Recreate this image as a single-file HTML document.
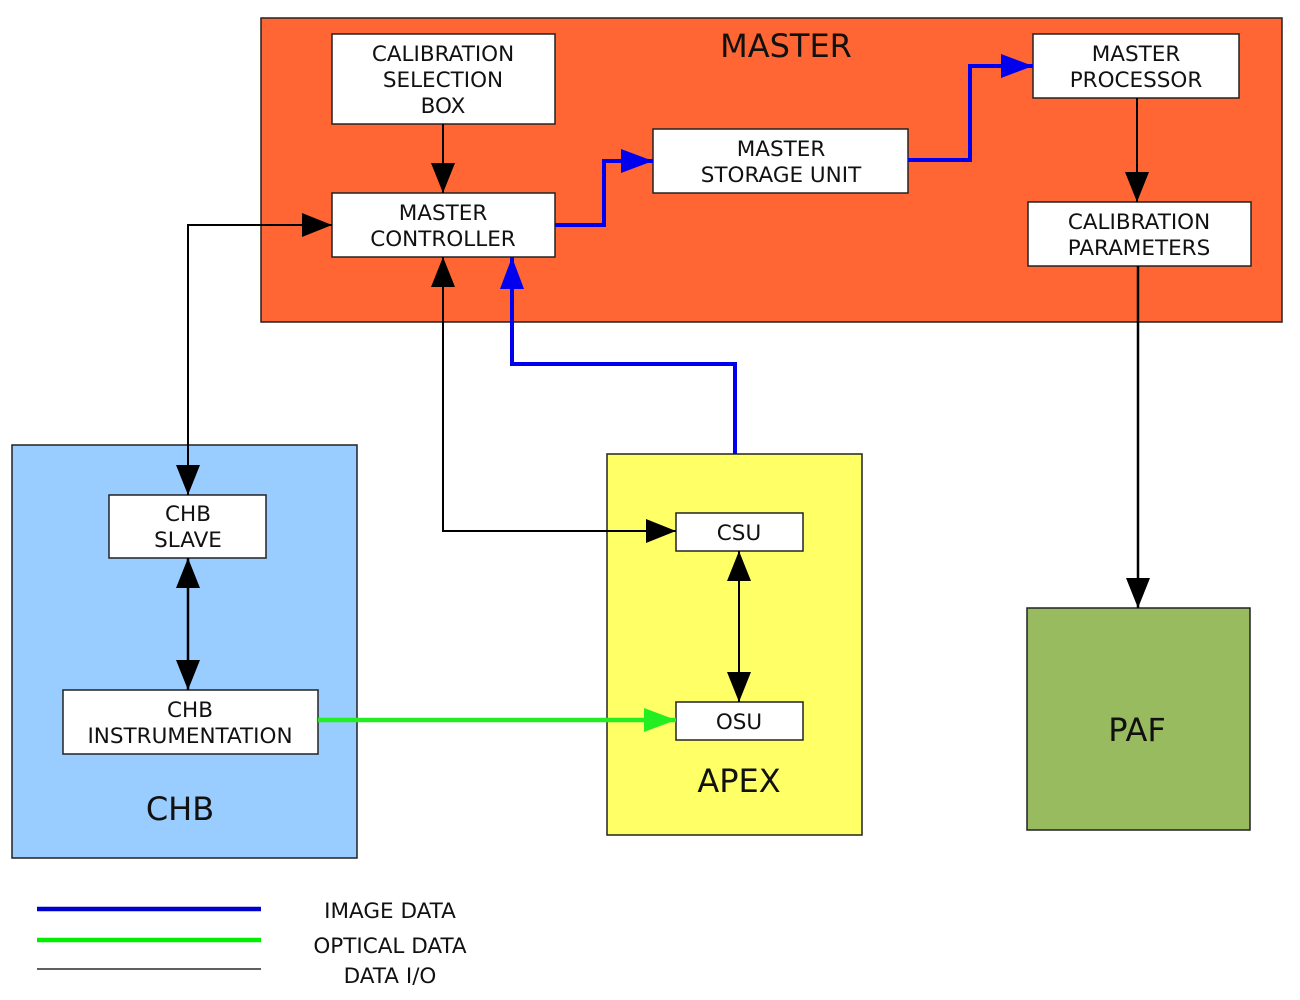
<!DOCTYPE html>
<html><head><meta charset="utf-8"><style>html,body{margin:0;padding:0;background:#fff}svg{display:block}text{font-family:"DejaVu Sans","Liberation Sans",sans-serif;fill:#111}</style></head>
<body>
<svg width="1300" height="1000" viewBox="0 0 1300 1000" xmlns="http://www.w3.org/2000/svg">
<defs>
<marker id="ab" markerWidth="30" markerHeight="24" refX="30" refY="12" orient="auto" markerUnits="userSpaceOnUse"><path d="M0,0 L30,12 L0,24 z" fill="#000"/></marker>
<marker id="abs" markerWidth="30" markerHeight="24" refX="0" refY="12" orient="auto" markerUnits="userSpaceOnUse"><path d="M30,0 L0,12 L30,24 z" fill="#000"/></marker>
<marker id="au" markerWidth="32" markerHeight="24" refX="32" refY="12" orient="auto" markerUnits="userSpaceOnUse"><path d="M0,0 L32,12 L0,24 z" fill="#0000ee"/></marker>
<marker id="ag" markerWidth="32" markerHeight="24" refX="32" refY="12" orient="auto" markerUnits="userSpaceOnUse"><path d="M0,0 L32,12 L0,24 z" fill="#22ee22"/></marker>
</defs>
<g stroke="#222" stroke-width="1.5">
<rect x="261" y="18" width="1021" height="304" fill="#ff6633"/>
<rect x="12" y="445" width="345" height="413" fill="#99ccff"/>
<rect x="607" y="454" width="255" height="381" fill="#ffff66"/>
<rect x="1027" y="608" width="223" height="222" fill="#99bb5f"/>
<g fill="#fff">
<rect x="332" y="34" width="223" height="90"/>
<rect x="332" y="193" width="223" height="64"/>
<rect x="653" y="129" width="255" height="64"/>
<rect x="1033" y="34" width="206" height="64"/>
<rect x="1028" y="202" width="223" height="64"/>
<rect x="109" y="495" width="157" height="63"/>
<rect x="63" y="690" width="255" height="64"/>
<rect x="676" y="513" width="127" height="38"/>
<rect x="676" y="702" width="127" height="38"/>
</g>
</g>
<g fill="none">
<path d="M443,124 V193" stroke="#000" stroke-width="2" marker-end="url(#ab)"/>
<path d="M555,225 H604 V161 H653" stroke="#0000ee" stroke-width="4" marker-end="url(#au)"/>
<path d="M908,160 H970 V66 H1033" stroke="#0000ee" stroke-width="4" marker-end="url(#au)"/>
<path d="M1137,98 V202" stroke="#000" stroke-width="2" marker-end="url(#ab)"/>
<path d="M1138,266 V608" stroke="#000" stroke-width="2.5" marker-end="url(#ab)"/>
<path d="M188,495 V225 H332" stroke="#000" stroke-width="2" marker-start="url(#abs)" marker-end="url(#ab)"/>
<path d="M443,257 V531 H676" stroke="#000" stroke-width="2" marker-start="url(#abs)" marker-end="url(#ab)"/>
<path d="M735,454 V364 H512 V257" stroke="#0000ee" stroke-width="4" marker-end="url(#au)"/>
<path d="M188,558 V690" stroke="#000" stroke-width="2.5" marker-start="url(#abs)" marker-end="url(#ab)"/>
<path d="M739,551 V702" stroke="#000" stroke-width="2" marker-start="url(#abs)" marker-end="url(#ab)"/>
<path d="M318,720 H676" stroke="#22ee22" stroke-width="4.5" marker-end="url(#ag)"/>
<path d="M37,909 H261" stroke="#0000cc" stroke-width="4.5"/>
<path d="M37,940 H261" stroke="#00ee00" stroke-width="4.5"/>
<path d="M37,969 H261" stroke="#000" stroke-width="1.2"/>
</g>
<g font-size="21.5" text-anchor="middle">
<text x="443" y="61">CALIBRATION</text><text x="443" y="87">SELECTION</text><text x="443" y="113">BOX</text>
<text x="443" y="220">MASTER</text><text x="443" y="246">CONTROLLER</text>
<text x="781" y="156">MASTER</text><text x="781" y="182">STORAGE UNIT</text>
<text x="1136" y="61">MASTER</text><text x="1136" y="87">PROCESSOR</text>
<text x="1139" y="229">CALIBRATION</text><text x="1139" y="255">PARAMETERS</text>
<text x="188" y="521">CHB</text><text x="188" y="547">SLAVE</text>
<text x="190" y="717">CHB</text><text x="190" y="743">INSTRUMENTATION</text>
<text x="739" y="540">CSU</text>
<text x="739" y="729">OSU</text>
<text x="390" y="918">IMAGE DATA</text>
<text x="390" y="953">OPTICAL DATA</text>
<text x="390" y="983">DATA I/O</text>
</g>
<g font-size="32" text-anchor="middle">
<text x="786" y="57">MASTER</text>
<text x="180" y="820">CHB</text>
<text x="739" y="792">APEX</text>
<text x="1137" y="741">PAF</text>
</g>
</svg>
</body></html>
